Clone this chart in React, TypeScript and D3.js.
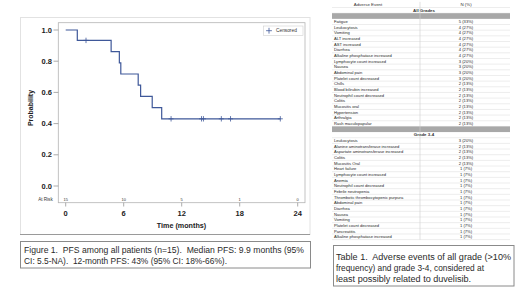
import React from "react";
import * as d3 from "d3";

// ---- KM data (months) ----
const eventTimes = [1.2, 4.7, 5.55, 5.7, 7.5, 7.75, 8.95, 9.93];
const censorTimes = [2.1, 10.9, 14.05, 14.25, 16.1, 17.05, 22.2];
const xTicks = [0, 6, 12, 18, 24];
const yTicks = [0, 0.2, 0.4, 0.6, 0.8, 1.0];
const atRisk = [15, 10, 5, 1, 0];

// ---- Table data ----
const allGradeEvents = [
  "Fatigue", "Leukocytosis", "Vomiting", "ALT increased", "AST increased", "Diarrhea",
  "Alkaline phosphatase increased", "Lymphocyte count increased", "Nausea", "Abdominal pain",
  "Platelet count decreased", "Chills", "Blood bilirubin increased", "Neutrophil count decreased",
  "Colitis", "Mucositis oral", "Hypertension", "Arthralgia", "Rash maculopapular",
];
const allGradeN = [
  "5 (33%)", "4 (27%)", "4 (27%)", "4 (27%)", "4 (27%)", "4 (27%)", "4 (27%)", "3 (20%)",
  "3 (20%)", "3 (20%)", "3 (20%)", "2 (13%)", "2 (13%)", "2 (13%)", "2 (13%)", "2 (13%)",
  "2 (13%)", "2 (13%)", "2 (13%)",
];
const grade34Events = [
  "Leukocytosis", "Alanine aminotransferase increased", "Aspartate aminotransferase increased",
  "Colitis", "Mucositis Oral", "Heart failure", "Lymphocyte count increased", "Anemia",
  "Neutrophil count decreased", "Febrile neutropenia", "Thrombotic thrombocytopenic purpura",
  "Abdominal pain", "Diarrhea", "Nausea", "Vomiting", "Platelet count decreased",
  "Pancreatitis", "Alkaline phosphatase increased",
];
const grade34N = [
  "3 (20%)", "2 (13%)", "2 (13%)", "2 (13%)", "2 (13%)", "1 (7%)", "1 (7%)", "1 (7%)",
  "1 (7%)", "1 (7%)", "1 (7%)", "1 (7%)", "1 (7%)", "1 (7%)", "1 (7%)", "1 (7%)", "1 (7%)", "1 (7%)",
];

const figCaption = [
  "Figure 1.  PFS among all patients (n=15).  Median PFS: 9.9 months (95%",
  "CI: 5.5-NA).  12-month PFS: 43% (95% CI: 18%-66%).",
];
const tableCaption = [
  "Table 1.  Adverse events of all grade (>10%",
  "frequency) and grade 3-4, considered at",
  "least possibly related to duvelisib.",
];

const BLUE = "#3f5899";
const SANS = "'Liberation Sans', Arial, sans-serif";

function kmSteps() {
  const all = [
    ...eventTimes.map((t) => ({ t, e: 1 })),
    ...censorTimes.map((t) => ({ t, e: 0 })),
  ].sort((a, b) => a.t - b.t);
  let n = all.length;
  let s = 1;
  const pts: [number, number][] = [[0, 1]];
  const cens: [number, number][] = [];
  for (const d of all) {
    if (d.e) {
      pts.push([d.t, s]);
      s = (s * (n - 1)) / n;
      pts.push([d.t, s]);
    } else {
      cens.push([d.t, s]);
    }
    n -= 1;
  }
  pts.push([d3.max(censorTimes) as number, s]);
  return { pts, cens };
}

export default function App() {
  const x = d3.scaleLinear().domain([0, 24]).range([65.7, 297.7]);
  const y = d3.scaleLinear().domain([0, 1]).range([186, 30]);
  const { pts, cens } = kmSteps();
  const line = d3.line<[number, number]>().x((d) => x(d[0])).y((d) => y(d[1]));

  type Row = { kind: string; a?: string; b?: string };
  const rows: Row[] = [
    { kind: "head", a: "Adverse Event", b: "N (%)" },
    { kind: "group", a: "All Grades" },
    { kind: "bar" },
    ...allGradeEvents.map((a, i) => ({ kind: "row", a, b: allGradeN[i] })),
    { kind: "bar" },
    { kind: "group", a: "Grade 3-4" },
    ...grade34Events.map((a, i) => ({ kind: "row", a, b: grade34N[i] })),
  ];
  const ry = d3.scaleLinear().domain([0, rows.length - 1]).range([4.7, 236.8]);
  const rh = ry(1) - ry(0);
  const tL = 332, tR = 510, tDiv = 420;

  return (
    <svg
      width={520}
      height={292}
      style={{ position: "fixed", left: 0, top: 0, background: "#fff" }}
      fontFamily={SANS}
    >
      <rect x={0} y={0} width={520} height={292} fill="#fff" />
      {/* KM panel */}
      <rect x={20.5} y={17.5} width={289.5} height={217} fill="#fff" stroke="#e2e2e2" />
      <line x1={20} x2={310} y1={234.5} y2={234.5} stroke="#9a9a9a" />
      <rect x={58.3} y={22.7} width={246.7} height={180} fill="none" stroke="#b4b4b4" strokeWidth={0.8} />
      {yTicks.map((t) => (
        <g key={t}>
          <line x1={53.5} x2={58.3} y1={y(t)} y2={y(t)} stroke="#888" strokeWidth={0.7} />
          <text x={52} y={y(t) + 2.6} fontSize={7.5} fontWeight="bold" textAnchor="end" fill="#222">
            {t.toFixed(1)}
          </text>
        </g>
      ))}
      {xTicks.map((t, i) => (
        <g key={t}>
          <line x1={x(t)} x2={x(t)} y1={202.7} y2={206.5} stroke="#888" strokeWidth={0.7} />
          <text x={x(t)} y={216} fontSize={7.5} fontWeight="bold" textAnchor="middle" fill="#222">
            {t}
          </text>
          <text x={x(t)} y={200.5} fontSize={4} textAnchor="middle" fill="#333">
            {atRisk[i]}
          </text>
        </g>
      ))}
      <text x={52.7} y={200.6} fontSize={4.6} textAnchor="end" fill="#333">At Risk</text>
      <text x={181.5} y={228} fontSize={7.2} fontWeight="bold" textAnchor="middle" fill="#222">
        Time (months)
      </text>
      <text
        transform="translate(32.5,108) rotate(-90)"
        fontSize={7}
        fontWeight="bold"
        textAnchor="middle"
        fill="#222"
      >
        Probability
      </text>
      <path d={line(pts) || ""} fill="none" stroke={BLUE} strokeWidth={1.2} />
      {cens.map(([t, s], i) => (
        <g key={i} stroke={BLUE} strokeWidth={0.8}>
          <line x1={x(t)} x2={x(t)} y1={y(s) - 2.7} y2={y(s) + 2.7} />
          <line x1={x(t) - 2.5} x2={x(t) + 2.5} y1={y(s)} y2={y(s)} />
        </g>
      ))}
      {/* legend */}
      <rect x={263.5} y={26} width={39.5} height={9.5} fill="#fff" stroke="#d0d0d0" strokeWidth={0.6} />
      <g stroke={BLUE} strokeWidth={0.8}>
        <line x1={269} x2={269} y1={27.8} y2={33.6} />
        <line x1={266.1} x2={271.9} y1={30.7} y2={30.7} />
      </g>
      <text x={276} y={32.4} fontSize={4.8} fill="#333">Censored</text>

      {/* Figure caption */}
      <rect x={20.5} y={241.5} width={290} height={26.5} fill="#fff" stroke="#8a8a8a" />
      {figCaption.map((s, i) => (
        <text
          key={i}
          x={24}
          y={252.6 + i * 11.6}
          fontSize={8.8}
          fill="#2a2a2a"
          style={{ whiteSpace: "pre" }}
          textLength={i === 0 ? 280 : 203}
          lengthAdjust="spacingAndGlyphs"
        >
          {s}
        </text>
      ))}

      {/* Table */}
      {rows.map((r, i) => {
        const cy = ry(i);
        const top = cy - rh / 2;
        return (
          <g key={i}>
            {r.kind === "bar" ? (
              <rect x={tL} y={top} width={tR - tL} height={rh} fill="#a8a8a8" />
            ) : (
              <line x1={tL} x2={tR} y1={top + rh} y2={top + rh} stroke="#dadada" strokeWidth={0.5} />
            )}
            {r.kind === "head" && (
              <>
                <text x={368} y={cy + 1.5} fontSize={4.4} textAnchor="middle" fill="#333">{r.a}</text>
                <text x={466} y={cy + 1.5} fontSize={4.4} textAnchor="middle" fill="#333">{r.b}</text>
              </>
            )}
            {r.kind === "group" && (
              <text x={424} y={cy + 1.5} fontSize={4.4} fontWeight="bold" textAnchor="middle" fill="#333">
                {r.a}
              </text>
            )}
            {r.kind === "row" && (
              <>
                <text x={334} y={cy + 1.4} fontSize={4.1} fill="#1e1e1e">{r.a}</text>
                <text x={466} y={cy + 1.4} fontSize={4.1} textAnchor="middle" fill="#1e1e1e">{r.b}</text>
              </>
            )}
          </g>
        );
      })}
      <line x1={tDiv} x2={tDiv} y1={ry(0) - rh / 2} y2={ry(rows.length - 1) + rh / 2} stroke="#cfcfcf" strokeWidth={0.6} />

      {/* Table caption */}
      <rect x={333.5} y={245.5} width={180.5} height={40.5} fill="#fff" stroke="#8a8a8a" />
      {tableCaption.map((s, i) => (
        <text
          key={i}
          x={336}
          y={259.5 + i * 11}
          fontSize={9.6}
          fill="#2a2a2a"
          style={{ whiteSpace: "pre" }}
          textLength={[175, 148, 135][i]}
          lengthAdjust="spacingAndGlyphs"
        >
          {s}
        </text>
      ))}
    </svg>
  );
}
